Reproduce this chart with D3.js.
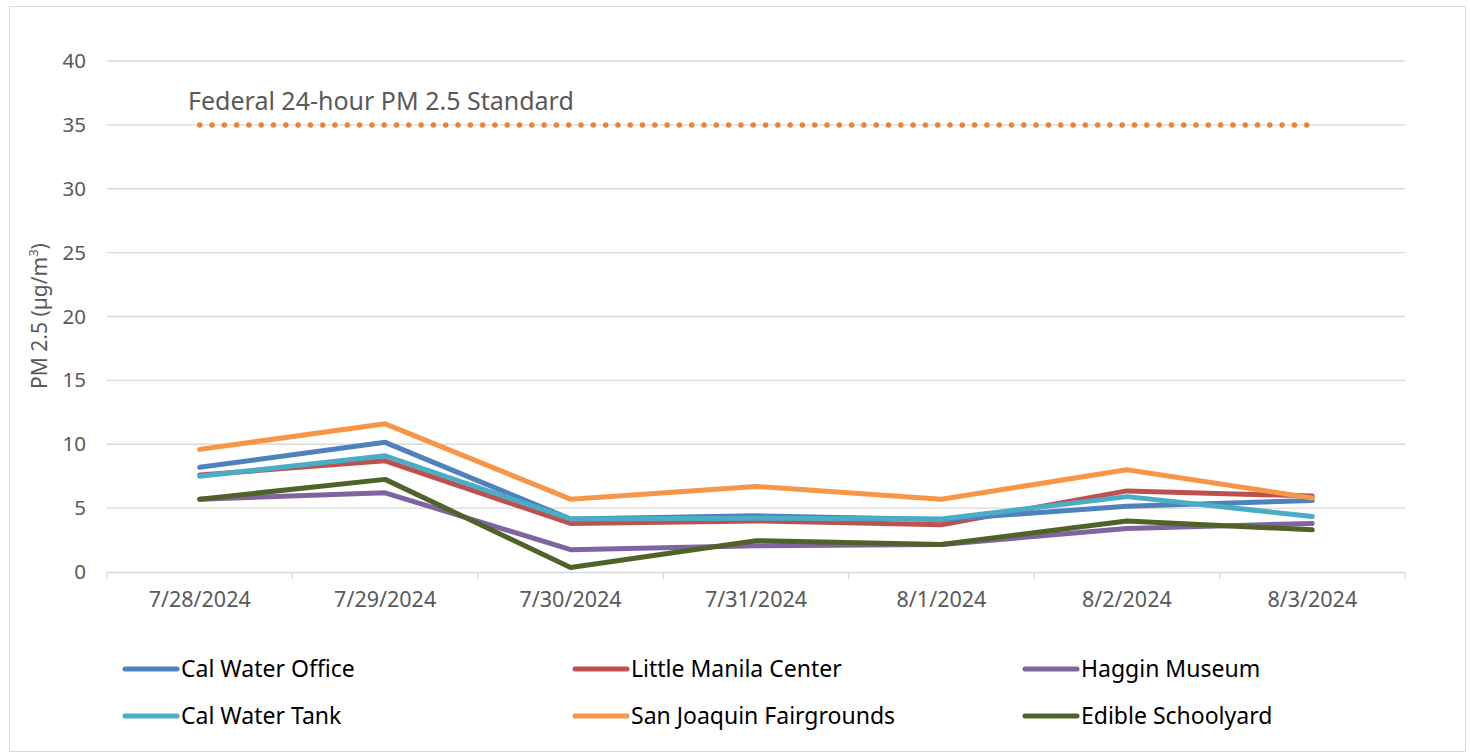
<!DOCTYPE html>
<html lang="en">
  <head>
    <meta charset="utf-8">
    <title>PM 2.5</title>
    <script src="https://d3js.org/d3.v7.min.js"></script>
    <style>
      body { margin: 0; background: #fff; }
      text { font-family: "Noto Sans", "Open Sans", sans-serif; }
    </style>
  </head>
  <body>
    <svg id="chart" width="1470" height="753"></svg>
    <script>
      // data
      let dates = ['7/28/2024', '7/29/2024', '7/30/2024', '7/31/2024', '8/1/2024', '8/2/2024', '8/3/2024'];
      let yTicks = [0, 5, 10, 15, 20, 25, 30, 35, 40];
      let standard = 35;

      let calWaterOffice = [8.2, 10.15, 4.15, 4.4, 4.1, 5.15, 5.6];
      let littleManila   = [7.6, 8.7, 3.8, 4.0, 3.7, 6.35, 5.95];
      let hagginMuseum   = [5.7, 6.2, 1.75, 2.05, 2.15, 3.4, 3.8];
      let calWaterTank   = [7.5, 9.1, 4.15, 4.2, 4.15, 5.9, 4.35];
      let fairgrounds    = [9.6, 11.6, 5.7, 6.7, 5.7, 8.0, 5.8];
      let edible         = [5.7, 7.25, 0.35, 2.45, 2.15, 4.0, 3.3];

      let series = [
        {name: 'Cal Water Office', values: calWaterOffice, color: '#4F81BD'},
        {name: 'Little Manila Center', values: littleManila, color: '#C0504D'},
        {name: 'Haggin Museum', values: hagginMuseum, color: '#8064A2'},
        {name: 'Cal Water Tank', values: calWaterTank, color: '#4BACC6'},
        {name: 'San Joaquin Fairgrounds', values: fairgrounds, color: '#F79646'},
        {name: 'Edible Schoolyard', values: edible, color: '#4F6228'}
      ];
      // drawing order (back to front)
      let drawOrder = [2, 5, 1, 0, 3, 4];

      let svg = d3.select('#chart');

      svg.append('rect')
        .attr('x', 9.5).attr('y', 6.5)
        .attr('width', 1456).attr('height', 745)
        .attr('fill', 'none')
        .attr('stroke', '#d9d9d9');

      let x = d3.scaleBand().domain(dates).range([107, 1405]);
      let y = d3.scaleLinear().domain([0, 40]).range([572, 61]);

      // gridlines
      svg.append('g')
        .selectAll('line')
        .data(yTicks.filter(function(d) {return d > 0}))
        .join('line')
        .attr('x1', 107).attr('x2', 1405)
        .attr('y1', function(d) {return y(d)})
        .attr('y2', function(d) {return y(d)})
        .attr('stroke', '#d9d9d9')
        .attr('stroke-width', 1.3);

      // y axis labels
      let yAxis = svg.append('g')
        .attr('transform', 'translate(86,0)')
        .call(d3.axisLeft(y).tickValues(yTicks).tickSize(0).tickPadding(0));
      yAxis.select('.domain').remove();
      yAxis.selectAll('text')
        .attr('font-size', 20.5)
        .attr('fill', '#595959')
        .style('font-family', '"Noto Sans", sans-serif');

      // x axis
      let xAxis = svg.append('g')
        .attr('transform', 'translate(0,' + y(0) + ')')
        .call(d3.axisBottom(x).tickSize(0).tickPadding(20));
      xAxis.select('.domain').attr('stroke', '#d9d9d9').attr('stroke-width', 1.3);
      xAxis.selectAll('text')
        .attr('font-size', 21.5)
        .attr('fill', '#595959')
        .style('font-family', '"Noto Sans", sans-serif');
      xAxis.selectAll('.tick line').remove();
      xAxis.selectAll('line.sep')
        .data(dates.map(function(d) {return x(d)}).concat([x.range()[1]]))
        .join('line')
        .attr('class', 'sep')
        .attr('x1', function(d) {return d}).attr('x2', function(d) {return d})
        .attr('y1', 0).attr('y2', 7)
        .attr('stroke', '#d9d9d9')
        .attr('stroke-width', 1.3);

      // y title
      svg.append('text')
        .attr('transform', 'translate(47,316) rotate(-90)')
        .attr('text-anchor', 'middle')
        .attr('font-size', 21)
        .attr('fill', '#595959')
        .html('PM 2.5 (µg/m<tspan baseline-shift="super" font-size="13">3</tspan>)');

      // federal standard
      let cx = function(d) {return x(d) + x.bandwidth() / 2};
      svg.append('line')
        .attr('x1', cx(dates[0])).attr('x2', cx(dates[dates.length - 1]))
        .attr('y1', y(standard)).attr('y2', y(standard))
        .attr('stroke', '#E8833A')
        .attr('stroke-width', 5.5)
        .attr('stroke-linecap', 'round')
        .attr('stroke-dasharray', '0 12.3');
      svg.append('text')
        .attr('x', 188).attr('y', 110)
        .attr('font-size', 25)
        .attr('fill', '#595959')
        .text('Federal 24-hour PM 2.5 Standard');

      // series lines
      let line = d3.line()
        .x(function(d, i) {return cx(dates[i])})
        .y(function(d) {return y(d)});
      svg.append('g')
        .selectAll('path')
        .data(drawOrder.map(function(i) {return series[i]}))
        .join('path')
        .attr('d', function(d) {return line(d.values)})
        .attr('fill', 'none')
        .attr('stroke', function(d) {return d.color})
        .attr('stroke-width', 5)
        .attr('stroke-linecap', 'round')
        .attr('stroke-linejoin', 'round');

      // legend
      let legend = svg.append('g')
        .selectAll('g')
        .data(series)
        .join('g')
        .attr('transform', function(d, i) {
          return 'translate(' + (125 + (i % 3) * 450) + ',' + (669 + Math.floor(i / 3) * 47) + ')';
        });
      legend.append('line')
        .attr('x1', 0).attr('x2', 52)
        .attr('stroke', function(d) {return d.color})
        .attr('stroke-width', 5)
        .attr('stroke-linecap', 'round');
      legend.append('text')
        .attr('x', 56).attr('y', 8)
        .attr('font-size', 23)
        .attr('fill', '#000')
        .text(function(d) {return d.name});
    </script>
  </body>
</html>
